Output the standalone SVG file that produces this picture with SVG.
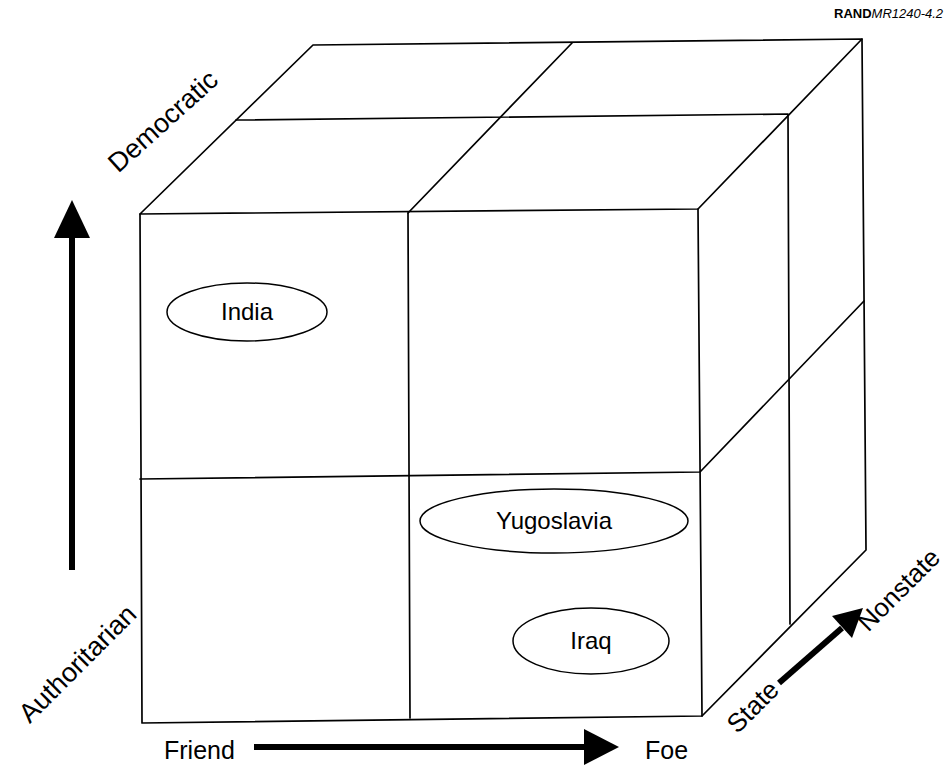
<svg xmlns="http://www.w3.org/2000/svg" width="945" height="770" viewBox="0 0 945 770">
<style>
.edge{stroke:#000;stroke-width:1.7;fill:none;stroke-linecap:round;stroke-linejoin:round}
.ell{stroke:#000;stroke-width:1.5;fill:none}
.lbl{font-family:"Liberation Sans",Arial,sans-serif;font-size:25px;fill:#000}
.rot{font-family:"Liberation Sans",Arial,sans-serif;font-size:27px;fill:#000;text-anchor:middle}
.cell{font-family:"Liberation Sans",Arial,sans-serif;font-size:24px;fill:#000;text-anchor:middle}
.ax{stroke:#000;stroke-width:6;fill:none}
.head{fill:#000}
</style>
<rect width="945" height="770" fill="#fff"/>
<text x="834" y="18" font-family="Liberation Sans,Arial,sans-serif" font-size="13" fill="#000"><tspan font-weight="bold">RAND</tspan><tspan font-style="italic">MR1240-4.2</tspan></text>
<g id="cube">
<path class="edge" d="M140,214 L698,209 L862,39 L313,45 Z"/>
<path class="edge" d="M140,214 L142,723 L702,716 L698,209"/>
<path class="edge" d="M702,716 L866,550 L862,39"/>
<path class="edge" d="M408,213 L572,43"/>
<path class="edge" d="M236,120 L788,114 L790,624"/>
<path class="edge" d="M408,213 L410,718"/>
<path class="edge" d="M140,479 L700,472 L864,301"/>
</g>
<g id="node-india">
<ellipse class="ell" cx="247" cy="312" rx="80" ry="29"/>
<text class="cell" x="247" y="320">India</text>
</g>
<g id="node-yugoslavia">
<ellipse class="ell" cx="554" cy="521" rx="134" ry="32"/>
<text class="cell" x="554" y="529">Yugoslavia</text>
</g>
<g id="node-iraq">
<ellipse class="ell" cx="591" cy="641" rx="78" ry="33"/>
<text class="cell" x="591" y="649">Iraq</text>
</g>
<g id="connectors">
<line class="ax" x1="72" y1="570" x2="72" y2="230"/>
<polygon class="head" points="72,200 54,238 90,238"/>
<line class="ax" x1="254" y1="747" x2="590" y2="747"/>
<polygon class="head" points="619,747 584,729 584,765"/>
<line class="ax" x1="779" y1="683" x2="842" y2="628"/>
<polygon class="head" points="863,608 832,616 852,638"/>
</g>
<g id="labels">
<text class="rot" transform="translate(169,128) rotate(-42)">Democratic</text>
<text class="rot" transform="translate(84,670) rotate(-45)">Authoritarian</text>
<text class="lbl" x="164" y="759">Friend</text>
<text class="lbl" x="645" y="759">Foe</text>
<text class="rot" transform="translate(759,713) rotate(-45)" style="font-size:26px">State</text>
<text class="rot" transform="translate(905,596) rotate(-45)" style="font-size:26px">Nonstate</text>
</g>
</svg>
